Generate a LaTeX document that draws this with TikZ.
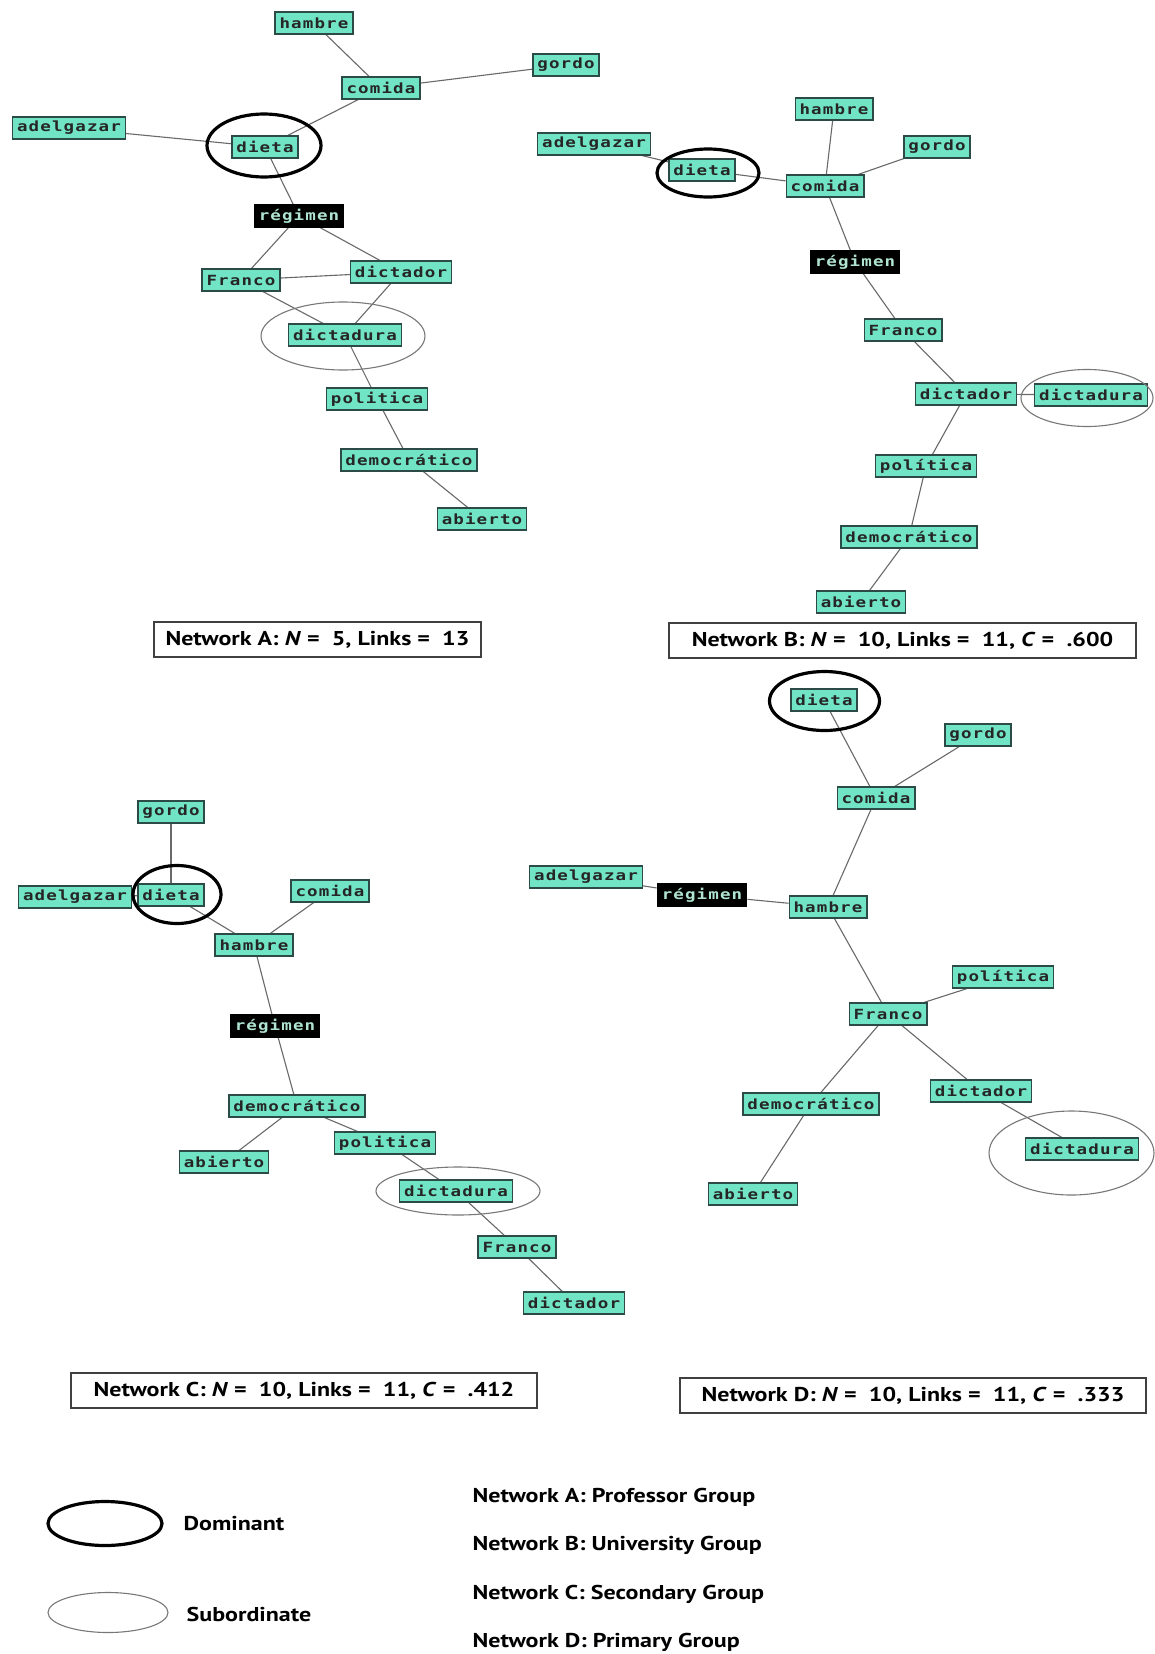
\documentclass[tikz,border=0pt]{standalone}
\usepackage{fontspec}
\setmainfont{PT Sans}
\newfontfamily\monof[LetterSpace=8,FakeStretch=1.25]{DejaVu Sans Mono}
\newfontfamily\labfont[FakeStretch=1.2]{PT Sans}
\usetikzlibrary{backgrounds}
\definecolor{nodefill}{RGB}{112,228,196}
\definecolor{nodeline}{RGB}{45,75,70}
\definecolor{edgecol}{RGB}{105,105,105}
\definecolor{regtext}{RGB}{175,228,208}
\definecolor{subcol}{RGB}{120,120,120}
\tikzset{
  wnode/.style={draw=nodeline, line width=1.2pt, fill=nodefill, inner xsep=4.5pt, inner ysep=0pt,
    minimum height=22pt, font=\monof\bfseries\fontsize{14}{14}\selectfont, text=black!85},
  rnode/.style={wnode, fill=black, draw=black, text=regtext},
  link/.style={draw=edgecol, line width=1.1pt},
  domell/.style={draw=black, line width=3.2pt},
  subell/.style={draw=subcol, line width=1.1pt},
  netlabel/.style={draw=black!75, line width=1.1pt, minimum height=35pt, inner xsep=6pt,
    font=\labfont\bfseries\fontsize{20}{20}\selectfont},
  legtext/.style={anchor=west, font=\labfont\bfseries\fontsize{20}{20}\selectfont, inner sep=0pt}
}
\begin{document}
\begin{tikzpicture}[x=1pt, y=-1pt]
\useasboundingbox (0,0) rectangle (1155,1654);

% ---------------- Network A ----------------
\node[wnode] (Ahambre) at (314,23) {hambre};
\node[wnode] (Agordo) at (566,65) {gordo};
\node[wnode] (Acomida) at (381,88) {comida};
\node[wnode] (Aadelgazar) at (69,128) {adelgazar};
\node[wnode] (Adieta) at (265,147) {dieta};
\node[rnode] (Aregimen) at (299,216) {régimen};
\node[wnode] (AFranco) at (241,280) {Franco};
\node[wnode] (Adictador) at (401,272) {dictador};
\node[wnode] (Adictadura) at (345,335) {dictadura};
\node[wnode] (Apolitica) at (377,399) {politica};
\node[wnode] (Ademocratico) at (409,460) {democrático};
\node[wnode] (Aabierto) at (482,519) {abierto};

% ---------------- Network B ----------------
\node[wnode] (Badelgazar) at (594,144) {adelgazar};
\node[wnode] (Bdieta) at (702,170) {dieta};
\node[wnode] (Bhambre) at (834,109) {hambre};
\node[wnode] (Bgordo) at (937,147) {gordo};
\node[wnode] (Bcomida) at (825,186) {comida};
\node[rnode] (Bregimen) at (855,262) {régimen};
\node[wnode] (BFranco) at (903,330) {Franco};
\node[wnode] (Bdictador) at (966,394) {dictador};
\node[wnode] (Bdictadura) at (1091,395) {dictadura};
\node[wnode] (Bpolitica) at (926,466) {política};
\node[wnode] (Bdemocratico) at (909,537) {democrático};
\node[wnode] (Babierto) at (861,602) {abierto};

% ---------------- Network C ----------------
\node[wnode] (Cgordo) at (171,812) {gordo};
\node[wnode] (Cadelgazar) at (75,897) {adelgazar};
\node[wnode] (Cdieta) at (171,895) {dieta};
\node[wnode] (Ccomida) at (330,891) {comida};
\node[wnode] (Chambre) at (254,945) {hambre};
\node[rnode] (Cregimen) at (275,1026) {régimen};
\node[wnode] (Cdemocratico) at (297,1106) {democrático};
\node[wnode] (Cabierto) at (224,1162) {abierto};
\node[wnode] (Cpolitica) at (385,1143) {politica};
\node[wnode] (Cdictadura) at (456,1191) {dictadura};
\node[wnode] (CFranco) at (517,1247) {Franco};
\node[wnode] (Cdictador) at (574,1303) {dictador};

% ---------------- Network D ----------------
\node[wnode] (Ddieta) at (824,700) {dieta};
\node[wnode] (Dgordo) at (978,735) {gordo};
\node[wnode] (Dcomida) at (876,798) {comida};
\node[wnode] (Dadelgazar) at (586,877) {adelgazar};
\node[rnode] (Dregimen) at (702,895) {régimen};
\node[wnode] (Dhambre) at (828,907) {hambre};
\node[wnode] (Dpolitica) at (1003,977) {política};
\node[wnode] (DFranco) at (888,1014) {Franco};
\node[wnode] (Ddictador) at (981,1091) {dictador};
\node[wnode] (Ddemocratico) at (811,1104) {democrático};
\node[wnode] (Ddictadura) at (1082,1149) {dictadura};
\node[wnode] (Dabierto) at (753,1194) {abierto};

\begin{scope}[on background layer]
\fill[white] (0,0) rectangle (1155,1654);
% A links
\draw[link] (Ahambre) -- (Acomida);
\draw[link] (Acomida) -- (Agordo);
\draw[link] (Acomida) -- (Adieta);
\draw[link] (Aadelgazar) -- (Adieta);
\draw[link] (Adieta) -- (Aregimen);
\draw[link] (Aregimen) -- (AFranco);
\draw[link] (Aregimen) -- (Adictador);
\draw[link] (AFranco) -- (Adictador);
\draw[link] (AFranco) -- (Adictadura);
\draw[link] (Adictador) -- (Adictadura);
\draw[link] (Adictadura) -- (Apolitica);
\draw[link] (Apolitica) -- (Ademocratico);
\draw[link] (Ademocratico) -- (Aabierto);
% B links
\draw[link] (Badelgazar) -- (Bdieta);
\draw[link] (Bdieta) -- (Bcomida);
\draw[link] (Bhambre) -- (Bcomida);
\draw[link] (Bgordo) -- (Bcomida);
\draw[link] (Bcomida) -- (Bregimen);
\draw[link] (Bregimen) -- (BFranco);
\draw[link] (BFranco) -- (Bdictador);
\draw[link] (Bdictador) -- (Bdictadura);
\draw[link] (Bdictador) -- (Bpolitica);
\draw[link] (Bpolitica) -- (Bdemocratico);
\draw[link] (Bdemocratico) -- (Babierto);
% C links
\draw[link] (Cgordo) -- (Cdieta);
\draw[link] (Cadelgazar) -- (Cdieta);
\draw[link] (Cdieta) -- (Chambre);
\draw[link] (Ccomida) -- (Chambre);
\draw[link] (Chambre) -- (Cregimen);
\draw[link] (Cregimen) -- (Cdemocratico);
\draw[link] (Cdemocratico) -- (Cabierto);
\draw[link] (Cdemocratico) -- (Cpolitica);
\draw[link] (Cpolitica) -- (Cdictadura);
\draw[link] (Cdictadura) -- (CFranco);
\draw[link] (CFranco) -- (Cdictador);
% D links
\draw[link] (Ddieta) -- (Dcomida);
\draw[link] (Dgordo) -- (Dcomida);
\draw[link] (Dcomida) -- (Dhambre);
\draw[link] (Dadelgazar) -- (Dregimen);
\draw[link] (Dregimen) -- (Dhambre);
\draw[link] (Dhambre) -- (DFranco);
\draw[link] (DFranco) -- (Dpolitica);
\draw[link] (DFranco) -- (Ddemocratico);
\draw[link] (DFranco) -- (Ddictador);
\draw[link] (Ddictador) -- (Ddictadura);
\draw[link] (Ddemocratico) -- (Dabierto);
\end{scope}

% ellipses
\draw[domell] (264,145.5) ellipse [x radius=57pt, y radius=31.5pt];
\draw[subell] (343,336) ellipse [x radius=82pt, y radius=34pt];
\draw[domell] (708,173) ellipse [x radius=51pt, y radius=24pt];
\draw[subell] (1087,398) ellipse [x radius=66pt, y radius=28.5pt];
\draw[domell] (177,894.5) ellipse [x radius=44pt, y radius=29pt];
\draw[subell] (458,1191) ellipse [x radius=82pt, y radius=24pt];
\draw[domell] (824.5,701) ellipse [x radius=55pt, y radius=29.5pt];
\draw[subell] (1071.5,1153) ellipse [x radius=82.5pt, y radius=42pt];

% network labels
\node[netlabel, minimum width=327pt] (labA) at (317.5,639.5) {Network A: \textit{N} = \ 5, Links = \ 13};
\node[netlabel, minimum width=467pt] (labB) at (902.5,640.5) {Network B: \textit{N} = \ 10, Links = \ 11, \textit{C} = \ .600};
\node[netlabel, minimum width=466pt] (labC) at (304,1390.5) {Network C: \textit{N} = \ 10, Links = \ 11, \textit{C} = \ .412};
\node[netlabel, minimum width=466pt] (labD) at (913,1395.5) {Network D: \textit{N} = \ 10, Links = \ 11, \textit{C} = \ .333};

% legend
\draw[domell] (105,1523.5) ellipse [x radius=57pt, y radius=22pt];
\draw[subell] (108,1612.5) ellipse [x radius=60pt, y radius=20pt];
\node[legtext] (legDom) at (183.5,1524) {Dominant};
\node[legtext] (legSub) at (186.5,1614) {Subordinate};
\node[legtext] (grpA) at (472.5,1497) {Network A: Professor Group};
\node[legtext] (grpB) at (472.5,1545) {Network B: University Group};
\node[legtext] (grpC) at (472.5,1594) {Network C: Secondary Group};
\node[legtext] (grpD) at (472.5,1642) {Network D: Primary Group};
\end{tikzpicture}
\end{document}
